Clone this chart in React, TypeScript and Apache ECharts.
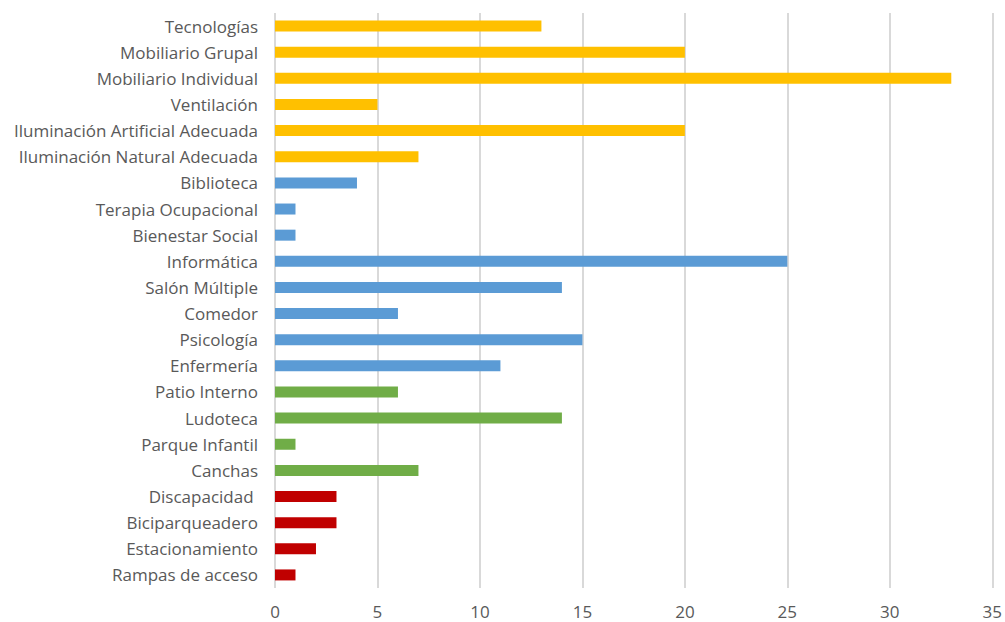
import React, { useEffect, useRef } from "react";
import * as echarts from "echarts";

const categories = [
  "Tecnologías",
  "Mobiliario Grupal",
  "Mobiliario Individual",
  "Ventilación",
  "Iluminación Artificial Adecuada",
  "Iluminación Natural Adecuada",
  "Biblioteca",
  "Terapia Ocupacional",
  "Bienestar Social",
  "Informática",
  "Salón Múltiple",
  "Comedor",
  "Psicología",
  "Enfermería",
  "Patio Interno",
  "Ludoteca",
  "Parque Infantil",
  "Canchas",
  "Discapacidad ",
  "Biciparqueadero",
  "Estacionamiento",
  "Rampas de acceso",
];

const values = [13, 20, 33, 5, 20, 7, 4, 1, 1, 25, 14, 6, 15, 11, 6, 14, 1, 7, 3, 3, 2, 1];

// group of each category: 0 = yellow, 1 = blue, 2 = green, 3 = red
const groups = [0, 0, 0, 0, 0, 0, 1, 1, 1, 1, 1, 1, 1, 1, 2, 2, 2, 2, 3, 3, 3, 3];
const groupColors = ["#FFC000", "#5B9BD5", "#70AD47", "#C00000"];

const xTicks = { min: 0, max: 35, interval: 5 };

export default function App() {
  const ref = useRef<HTMLDivElement>(null);
  useEffect(() => {
    document.body.style.margin = "0";
    const chart = echarts.init(ref.current!, null, { renderer: "svg" });
    const cats = [...categories].reverse();
    const data = values
      .map((v, i) => ({ value: v, itemStyle: { color: groupColors[groups[i]] } }))
      .reverse();
    chart.setOption({
      animation: false,
      grid: { left: 275, right: 11, top: 13, bottom: 34, containLabel: false },
      xAxis: {
        type: "value",
        min: xTicks.min,
        max: xTicks.max,
        interval: xTicks.interval,
        axisLine: { show: false },
        axisTick: { show: false },
        axisLabel: { color: "#595959", fontSize: 17, fontFamily: "Open Sans", margin: 15 },
        splitLine: { show: true, lineStyle: { color: "#D9D9D9", width: 2 } },
      },
      yAxis: {
        type: "category",
        data: cats,
        axisLine: { show: false },
        axisTick: { show: false },
        axisLabel: { color: "#595959", fontSize: 17, fontFamily: "Open Sans", margin: 17 },
        splitLine: { show: false },
      },
      series: [
        {
          type: "bar",
          data,
          barWidth: 11,
        },
      ],
    });
    return () => chart.dispose();
  }, []);
  return <div ref={ref} style={{ width: 1005, height: 622 }} />;
}
